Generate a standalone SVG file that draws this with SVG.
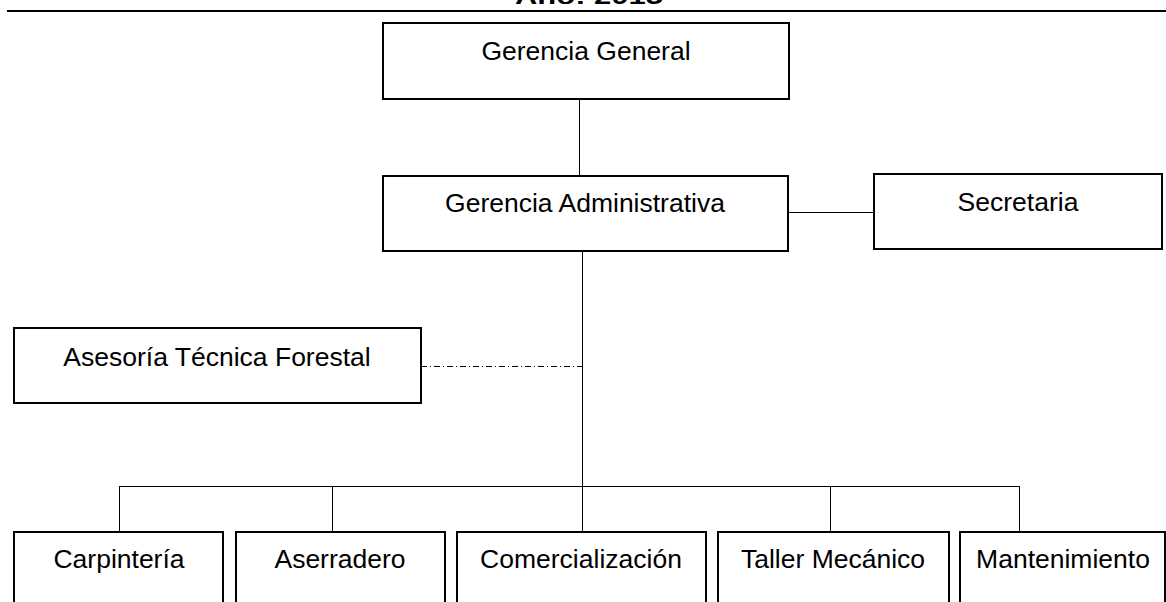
<svg xmlns="http://www.w3.org/2000/svg" width="1166" height="602" viewBox="0 0 1166 602">
<style>
.box{fill:#fff;stroke:#000;stroke-width:2}
.lbl{font-family:"Liberation Sans",Arial,sans-serif;font-size:26.5px;fill:#000;text-anchor:middle}
.con{stroke:#000;stroke-width:1;fill:none}
.dash{stroke:#000;stroke-width:1;fill:none;stroke-dasharray:6 3 1 3}
</style>
<rect width="1166" height="602" fill="#fff"/>
<text x="589" y="4" font-family="'Liberation Sans',Arial,sans-serif" font-size="22" font-weight="bold" text-anchor="middle" textLength="148" lengthAdjust="spacingAndGlyphs">Año: 2015</text>
<line x1="7" y1="11" x2="1166" y2="11" stroke="#000" stroke-width="2"/>
<g id="connectors">
<line class="con" x1="579.5" y1="99" x2="579.5" y2="176"/>
<line class="con" x1="788" y1="212.5" x2="874" y2="212.5"/>
<line class="con" x1="582.5" y1="251" x2="582.5" y2="486"/>
<line class="dash" x1="421" y1="366.5" x2="582" y2="366.5"/>
<line class="con" x1="119.5" y1="486.5" x2="1019.5" y2="486.5"/>
<line class="con" x1="119.5" y1="486" x2="119.5" y2="532"/>
<line class="con" x1="332.5" y1="486" x2="332.5" y2="532"/>
<line class="con" x1="582.5" y1="486" x2="582.5" y2="532"/>
<line class="con" x1="830.5" y1="486" x2="830.5" y2="532"/>
<line class="con" x1="1019.5" y1="486" x2="1019.5" y2="532"/>
</g>
<g id="gerencia-general">
<rect class="box" x="383" y="23" width="406" height="76"/>
<text class="lbl" x="586" y="60">Gerencia General</text>
</g>
<g id="gerencia-administrativa">
<rect class="box" x="383" y="176" width="405" height="75"/>
<text class="lbl" x="585" y="212">Gerencia Administrativa</text>
</g>
<g id="secretaria">
<rect class="box" x="874" y="174" width="288" height="75"/>
<text class="lbl" x="1018" y="211">Secretaria</text>
</g>
<g id="asesoria">
<rect class="box" x="14" y="328" width="407" height="75"/>
<text class="lbl" x="217" y="366">Asesoría Técnica Forestal</text>
</g>
<g id="carpinteria">
<rect class="box" x="14" y="532" width="209" height="90"/>
<text class="lbl" x="119" y="568">Carpintería</text>
</g>
<g id="aserradero">
<rect class="box" x="236" y="532" width="209" height="90"/>
<text class="lbl" x="340" y="568">Aserradero</text>
</g>
<g id="comercializacion">
<rect class="box" x="457" y="532" width="249" height="90"/>
<text class="lbl" x="581" y="568">Comercialización</text>
</g>
<g id="taller-mecanico">
<rect class="box" x="718" y="532" width="231" height="90"/>
<text class="lbl" x="833" y="568">Taller Mecánico</text>
</g>
<g id="mantenimiento">
<rect class="box" x="960" y="532" width="205" height="90"/>
<text class="lbl" x="1063" y="568">Mantenimiento</text>
</g>
</svg>
